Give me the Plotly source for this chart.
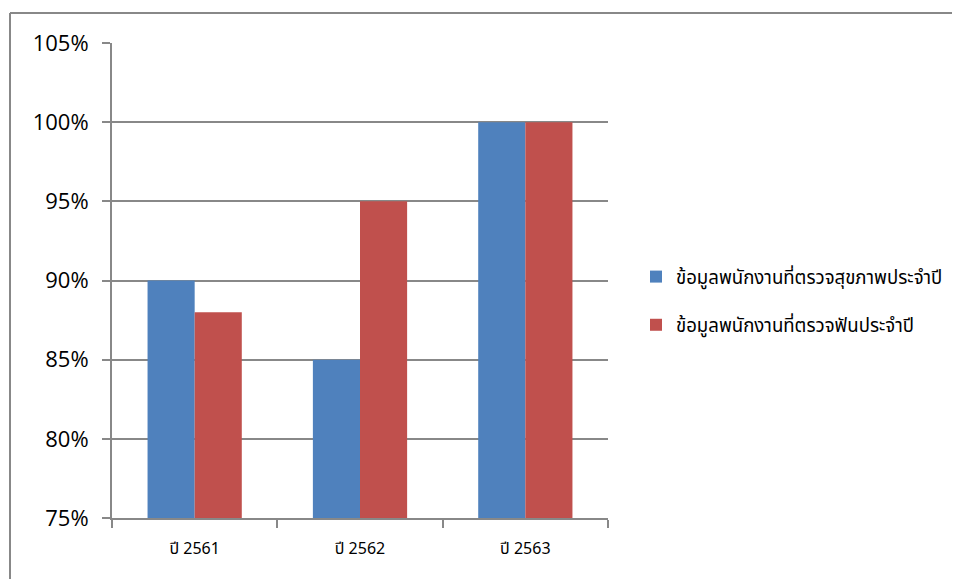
import plotly.graph_objects as go

categories = ["ปี 2561", "ปี 2562", "ปี 2563"]
series_names = ["ข้อมูลพนักงานที่ตรวจสุขภาพประจำปี", "ข้อมูลพนักงานที่ตรวจฟันประจำปี"]
health = [90, 85, 100]
dental = [88, 95, 100]
colors = ["#4F81BD", "#C0504D"]
y_ticks = [75, 80, 85, 90, 95, 100, 105]
y_labels = [f"{v}%" for v in y_ticks]

W, H = 960, 579
OFF = 8  # page body offset
L, R, T, B = 112 - OFF, 608 - OFF, 43 - OFF, 518 - OFF

fig = go.Figure()
for i, (name, vals, c) in enumerate(zip(series_names, [health, dental], colors)):
    fig.add_trace(go.Bar(x=categories, y=vals, name=name, marker_color=c,
                         marker_line_width=0, legendgroup=f"g{i}"))

thai_font = "Noto Sans Thai, Tahoma, DejaVu Sans, sans-serif"
fig.update_layout(
    width=W, height=H,
    margin=dict(l=L, r=W - R, t=T, b=H - B, pad=0),
    paper_bgcolor="white", plot_bgcolor="white",
    barmode="group", bargap=0.43, bargroupgap=0,
    showlegend=True,
    legend=dict(x=(628 - L) / (R - L), y=(B - 293) / (B - T), xanchor="left", yanchor="middle",
                xref="paper", yref="paper", traceorder="grouped",
                font=dict(family=thai_font, size=18.6, color="#000"),
                tracegroupgap=21, itemwidth=30, bgcolor="rgba(0,0,0,0)"),
    font=dict(family="Open Sans, Liberation Sans, sans-serif", color="#000"),
    xaxis=dict(showline=True, linecolor="#888888", linewidth=2,
               ticks="outside", ticklen=8, tickcolor="#888888", tickwidth=2,
               tickson="boundaries", showgrid=False, ticklabelstandoff=15,
               tickfont=dict(size=16, family=thai_font, color="#000")),
    yaxis=dict(range=[75, 105], tickvals=y_ticks, ticktext=y_labels,
               showline=True, linecolor="#888888", linewidth=2,
               ticks="outside", ticklen=8, tickcolor="#888888", tickwidth=2,
               showgrid=True, gridcolor="#888888", gridwidth=2, zeroline=False,
               ticklabelstandoff=9,
               tickfont=dict(size=22, family="Open Sans, Liberation Sans, sans-serif", color="#000")),
)

def px_x(p):
    return (p - L) / (R - L)

def px_y(p):
    return (B - p) / (B - T)

fig.add_shape(type="line", xref="paper", yref="paper",
              x0=px_x(10 - OFF), x1=px_x(1100), y0=px_y(13 - OFF), y1=px_y(13 - OFF),
              line=dict(color="#888888", width=2), layer="below")
fig.add_shape(type="line", xref="paper", yref="paper",
              x0=px_x(10 - OFF), x1=px_x(10 - OFF), y0=px_y(13 - OFF), y1=px_y(700),
              line=dict(color="#888888", width=2), layer="below")

fig.write_html("out.html")
